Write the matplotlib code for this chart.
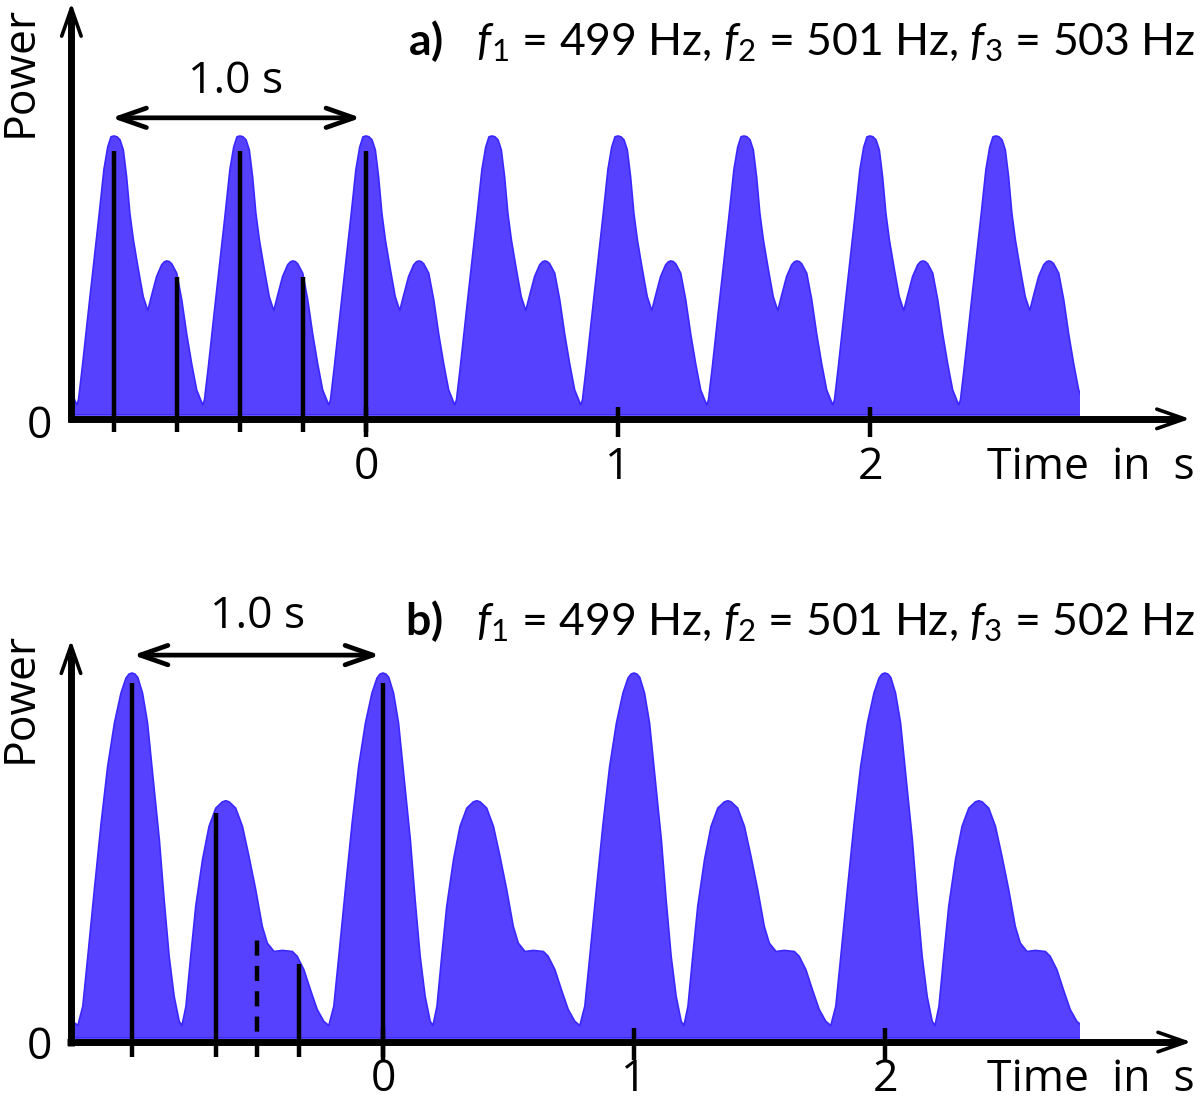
import numpy as np
import matplotlib.pyplot as plt
from matplotlib.patches import Rectangle

plt.rcParams['mathtext.fontset'] = 'custom'
plt.rcParams['mathtext.rm'] = 'Lato'
plt.rcParams['mathtext.it'] = 'Lato:italic'
plt.rcParams['mathtext.bf'] = 'Lato:bold'

# a) f1=499, f2=501, f3=503 Hz: one period (0.5 s) of the power curve
prof_a_off = [0.0, 0.012, 0.024, 0.037, 0.050, 0.063, 0.077, 0.097, 0.116, 0.134,
              0.148, 0.169, 0.189, 0.200, 0.209, 0.219, 0.229, 0.249, 0.269, 0.288,
              0.308, 0.328, 0.352, 0.359, 0.374, 0.403, 0.440, 0.460, 0.475, 0.488]
prof_a_pow = [1.0, 0.997, 0.986, 0.95, 0.854, 0.723, 0.627, 0.520, 0.424, 0.374,
              0.424, 0.496, 0.538, 0.549, 0.552, 0.550, 0.542, 0.508, 0.412, 0.293,
              0.185, 0.090, 0.036, 0.054, 0.17, 0.41, 0.71, 0.88, 0.96, 0.997]
peaks_a = [-1.5, -1.0, -0.5, 0.0, 0.5, 1.0, 1.5, 2.0, 2.5, 3.0]
span_a = (-1.155, 2.833)
marks_a_t = [-1.0, -0.75, -0.5, -0.25, 0.0]
marks_a_h = [0.946, 0.496, 0.946, 0.496, 0.946]

# b) f1=499, f2=501, f3=502 Hz: one period (1 s)
prof_b_off = [0.0, 0.012, 0.023, 0.042, 0.062, 0.082, 0.109, 0.128, 0.148, 0.168,
              0.188, 0.199, 0.215, 0.234, 0.254, 0.281, 0.307, 0.334, 0.360, 0.374,
              0.387, 0.413, 0.440, 0.466, 0.493, 0.519, 0.539, 0.566, 0.599, 0.639,
              0.658, 0.685, 0.711, 0.738, 0.764, 0.784, 0.804, 0.824, 0.850, 0.877,
              0.903, 0.930, 0.956, 0.976, 0.988]
prof_b_pow = [1.0, 0.997, 0.988, 0.945, 0.863, 0.726, 0.543, 0.379, 0.224, 0.114,
              0.046, 0.034, 0.087, 0.224, 0.361, 0.489, 0.580, 0.630, 0.647, 0.650,
              0.647, 0.630, 0.580, 0.498, 0.406, 0.306, 0.260, 0.237, 0.240, 0.237,
              0.224, 0.187, 0.132, 0.078, 0.046, 0.034, 0.087, 0.224, 0.406, 0.589,
              0.744, 0.863, 0.945, 0.986, 0.997]
peaks_b = [-2.0, -1.0, 0.0, 1.0, 2.0]
span_b = (-1.227, 2.777)
marks_b_t = [-1.0, -2 / 3, -1 / 3, 0.0]
marks_b_h = [0.973, 0.616, 0.204, 0.973]
dash_b_t = -0.5
dash_b_h = 0.288

ticks = [0, 1, 2]
tick_labels = ['0', '1', '2']
title_a = r'$\mathbf{a)}$   $f_1$ = 499 Hz, $f_2$ = 501 Hz, $f_3$ = 503 Hz'
title_b = r'$\mathbf{b)}$   $f_1$ = 499 Hz, $f_2$ = 501 Hz, $f_3$ = 502 Hz'

BLUE = '#5541ff'
EDGE = '#3a28ff'
FS = 32
FONT = 'Open Sans'
MLW = 3.2

fig = plt.figure(figsize=(12, 11.04), dpi=100)
ax_a = fig.add_axes([0.011, 0.5736, 0.987, 0.4296])
ax_b = fig.add_axes([0.02633, 0.01019, 0.97263, 0.4794])
ax_a.set_xlim(-1.4, 3.3)
ax_a.set_ylim(-0.2, 1.5)
ax_b.set_xlim(-1.4, 3.25)
ax_b.set_ylim(-0.15, 1.3)


def curve(offsets, powers, peaks):
    t = np.concatenate([pk + np.asarray(offsets) for pk in peaks])
    p = np.tile(powers, len(peaks))
    return t, p


def arrow(ax, start, tip, lw=2.6):
    ax.annotate('', xy=tip, xytext=start, annotation_clip=False,
                arrowprops=dict(arrowstyle='->,head_length=0.4,head_width=0.14',
                                lw=lw, color='k', mutation_scale=50,
                                shrinkA=0, shrinkB=0))


def panel(ax, t, p, span, yax_x, xax_y, ytip, xtip, tick_lo, tick_hi):
    ax.axis('off')
    poly = ax.fill_between(t, 0, p, facecolor=BLUE, edgecolor=EDGE, lw=1.2)
    clip = Rectangle((span[0], -1), span[1] - span[0], 3, transform=ax.transData)
    poly.set_clip_path(clip)
    # axes with arrow heads
    ax.plot([yax_x, yax_x], [xax_y - 0.012, ytip - 0.04], color='k', lw=5,
            solid_capstyle='butt', clip_on=False)
    arrow(ax, (yax_x, ytip - 0.1), (yax_x, ytip))
    ax.plot([yax_x - 0.015, xtip - 0.06], [xax_y, xax_y], color='k', lw=5,
            solid_capstyle='butt', clip_on=False)
    arrow(ax, (xtip - 0.2, xax_y), (xtip, xax_y))
    ax.vlines(ticks, tick_lo, tick_hi, color='k', lw=MLW)


# ---- panel a ----
t_a, p_a = curve(prof_a_off, prof_a_pow, peaks_a)
panel(ax_a, t_a, p_a, span_a, -1.169, -0.014, 1.477, 3.27, -0.079, 0.029)
ax_a.vlines(marks_a_t, -0.061, marks_a_h, color='k', lw=MLW)
ax_a.annotate('', xy=(-0.02, 1.065), xytext=(-1.01, 1.065),
              arrowprops=dict(arrowstyle='<->,head_length=0.4,head_width=0.14',
                              lw=3.4, color='k', mutation_scale=50,
                              shrinkA=0, shrinkB=0))
ax_a.text(-0.516, 1.154, '1.0 s', fontsize=FS, family=FONT, ha='center', va='baseline')
ax_a.text(3.29, 1.290, title_a, fontsize=32, family='Lato', ha='right', va='baseline')
ax_a.text(-1.373, 1.233, 'Power', fontsize=FS, family=FONT, rotation=90,
          ha='center', va='center', clip_on=False)
ax_a.text(-1.294, -0.022, '0', fontsize=FS, family=FONT, ha='center', va='center_baseline')
for x, lab in zip(ticks, tick_labels):
    ax_a.text(x, -0.168, lab, fontsize=FS, family=FONT, ha='center', va='center_baseline')
ax_a.text(2.877, -0.168, 'Time  in  s', fontsize=FS, family=FONT,
          ha='center', va='center_baseline')

# ---- panel b ----
t_b, p_b = curve(prof_b_off, prof_b_pow, peaks_b)
panel(ax_b, t_b, p_b, span_b, -1.243, -0.011, 1.09, 3.22, -0.06, 0.027)
ax_b.vlines(marks_b_t, -0.052, marks_b_h, color='k', lw=MLW)
ax_b.plot([dash_b_t, dash_b_t], [-0.052, dash_b_h], color='k', lw=MLW,
          ls=(0, (3.4, 2.3)))
ax_b.annotate('', xy=(-0.012, 1.049), xytext=(-0.996, 1.049),
              arrowprops=dict(arrowstyle='<->,head_length=0.4,head_width=0.14',
                              lw=3.4, color='k', mutation_scale=50,
                              shrinkA=0, shrinkB=0))
ax_b.text(-0.498, 1.123, '1.0 s', fontsize=FS, family=FONT, ha='center', va='baseline')
ax_b.text(3.235, 1.104, title_b, fontsize=32, family='Lato', ha='right', va='baseline')
ax_b.text(-1.446, 0.934, 'Power', fontsize=FS, family=FONT, rotation=90,
          ha='center', va='center', clip_on=False)
ax_b.text(-1.367, -0.011, '0', fontsize=FS, family=FONT, ha='center', va='center_baseline')
for x, lab in zip(ticks, tick_labels):
    ax_b.text(x, -0.100, lab, fontsize=FS, family=FONT, ha='center', va='center_baseline')
ax_b.text(2.821, -0.100, 'Time  in  s', fontsize=FS, family=FONT,
          ha='center', va='center_baseline')

fig.savefig('out.png', dpi=100)
